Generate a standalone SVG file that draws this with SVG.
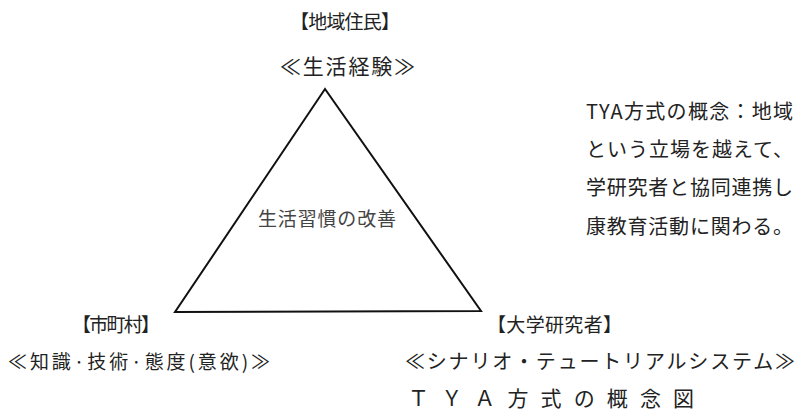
<svg xmlns="http://www.w3.org/2000/svg" width="797" height="419" viewBox="0 0 797 419">
  <style>
    text { font-family: "Noto Sans CJK JP", "Noto Sans", sans-serif; fill: #222; }
    .lbl { font-size: 19px; }
    .sub { font-size: 20px; }
    .big { font-size: 21px; }
    .note { font-size: 20px; }
    .center { font-size: 19px; fill: #444; }
    .tri { fill: none; stroke: #111; stroke-width: 2; stroke-linejoin: miter; }
  </style>
  <rect width="797" height="419" fill="#fff"/>
  <g id="connectors">
    <polygon class="tri" points="325,89 175,312 481,311"/>
  </g>
  <g id="center">
    <text class="center" x="258" y="226" textLength="138" lengthAdjust="spacing">生活習慣の改善</text>
  </g>
  <g id="node-residents">
    <text class="lbl" x="290" y="29" textLength="110" lengthAdjust="spacing">【地域住民】</text>
    <text class="big" x="280" y="74" textLength="135" lengthAdjust="spacing">≪生活経験≫</text>
  </g>
  <g id="node-municipality">
    <text class="lbl" x="72" y="332" textLength="88" lengthAdjust="spacing">【市町村】</text>
    <text class="lbl" x="8" y="369" textLength="262" lengthAdjust="spacing">≪知識·技術·態度(意欲)≫</text>
  </g>
  <g id="node-researchers">
    <text class="lbl" x="487" y="332" textLength="135" lengthAdjust="spacing">【大学研究者】</text>
    <text class="sub" x="405" y="369" textLength="390" lengthAdjust="spacing">≪シナリオ・テュートリアルシステム≫</text>
  </g>
  <g id="caption">
    <text class="big" x="408" y="406" textLength="286" lengthAdjust="spacing">ＴＹＡ方式の概念図</text>
  </g>
  <g id="note">
    <text class="note" x="586" y="119" textLength="207" lengthAdjust="spacing">TYA方式の概念：地域</text>
    <text class="note" x="586" y="157" textLength="207" lengthAdjust="spacing">という立場を越えて、</text>
    <text class="note" x="586" y="195" textLength="207" lengthAdjust="spacing">学研究者と協同連携し</text>
    <text class="note" x="586" y="234" textLength="207" lengthAdjust="spacing">康教育活動に関わる。</text>
  </g>
</svg>
